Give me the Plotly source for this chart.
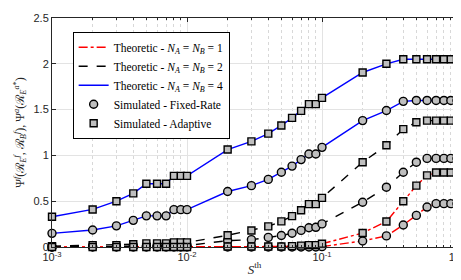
import plotly.graph_objects as go

# Threshold values S^th
s_th = [0.001, 0.002, 0.003, 0.004, 0.005, 0.006, 0.007, 0.008, 0.009,
        0.01, 0.02, 0.03, 0.04, 0.05, 0.06, 0.07, 0.08, 0.09,
        0.1, 0.2, 0.3, 0.4, 0.5, 0.6, 0.7, 0.8, 0.9, 1.0]

# N_A = N_B = 4
n4_adaptive = [0.33, 0.41, 0.50, 0.585, 0.69, 0.69, 0.69, 0.777, 0.777,
               0.777, 1.064, 1.153, 1.238, 1.327, 1.41, 1.486, 1.56, 1.56,
               1.628, 1.905, 2.0, 2.05, 2.05, 2.05, 2.05, 2.05, 2.05, 2.05]
n4_fixed = [0.149, 0.185, 0.231, 0.291, 0.34, 0.34, 0.34, 0.408, 0.408,
            0.408, 0.606, 0.67, 0.738, 0.816, 0.883, 0.954, 1.015, 1.015,
            1.088, 1.38, 1.49, 1.59, 1.60, 1.60, 1.60, 1.60, 1.60, 1.60]
# N_A = N_B = 2
n2_adaptive = [0.01, 0.02, 0.02, 0.03, 0.04, 0.04, 0.04, 0.05, 0.05,
               0.05, 0.128, 0.18, 0.225, 0.28, 0.337, 0.402, 0.468, 0.468,
               0.536, 0.926, 1.11, 1.287, 1.362, 1.38, 1.38, 1.38, 1.38, 1.38]
n2_fixed = [0.0, 0.005, 0.005, 0.01, 0.01, 0.01, 0.01, 0.015, 0.015,
            0.015, 0.07, 0.08, 0.105, 0.125, 0.15, 0.181, 0.21, 0.215,
            0.252, 0.489, 0.653, 0.816, 0.926, 0.967, 0.967, 0.967, 0.967, 0.967]
# N_A = N_B = 1
n1_adaptive = [0.0, 0.0, 0.0, 0.0, 0.0, 0.0, 0.0, 0.0, 0.0,
               0.0, 0.005, 0.005, 0.005, 0.005, 0.01, 0.015, 0.02, 0.02,
               0.035, 0.153, 0.278, 0.5, 0.67, 0.782, 0.813, 0.813, 0.813, 0.813]
n1_fixed = [0.0, 0.0, 0.0, 0.0, 0.0, 0.0, 0.0, 0.0, 0.0,
            0.0, 0.0, 0.0, 0.0, 0.0, 0.0, 0.0, 0.0, 0.0,
            0.004, 0.066, 0.121, 0.24, 0.345, 0.436, 0.473, 0.473, 0.473, 0.473]

x_ticks = [0.001, 0.01, 0.1, 1.0]
x_tick_text = ["10<sup>-3</sup>", "10<sup>-2</sup>", "10<sup>-1</sup>", "10<sup>0</sup>"]
x_minor_ticks = [0.002, 0.003, 0.004, 0.005, 0.006, 0.007, 0.008, 0.009,
                 0.02, 0.03, 0.04, 0.05, 0.06, 0.07, 0.08, 0.09,
                 0.2, 0.3, 0.4, 0.5, 0.6, 0.7, 0.8, 0.9]
y_ticks = [0, 0.5, 1, 1.5, 2, 2.5]
y_tick_text = ["0", "0.5", "1", "1.5", "2", "2.5"]

legend_names = [
    "Theoretic - <i>N</i><sub><i>A</i></sub> = <i>N</i><sub><i>B</i></sub> = 1",
    "Theoretic - <i>N</i><sub><i>A</i></sub> = <i>N</i><sub><i>B</i></sub> = 2",
    "Theoretic - <i>N</i><sub><i>A</i></sub> = <i>N</i><sub><i>B</i></sub> = 4",
    "Simulated - Fixed-Rate",
    "Simulated - Adaptive",
]

fig = go.Figure()

lines = [
    (n1_fixed, "#ff0000", "dashdot", 0),
    (n1_adaptive, "#ff0000", "dashdot", None),
    (n2_fixed, "#000000", "dash", 1),
    (n2_adaptive, "#000000", "dash", None),
    (n4_fixed, "#0000ff", "solid", 2),
    (n4_adaptive, "#0000ff", "solid", None),
]
for ys, col, dash, leg in lines:
    fig.add_trace(go.Scatter(
        x=s_th, y=ys, mode="lines",
        line=dict(color=col, dash=dash, width=1.4),
        name=legend_names[leg] if leg is not None else "",
        showlegend=leg is not None, cliponaxis=False,
    ))

marker_sets = [
    (n4_fixed, "circle", 3), (n2_fixed, "circle", None), (n1_fixed, "circle", None),
    (n4_adaptive, "square", 4), (n2_adaptive, "square", None), (n1_adaptive, "square", None),
]
for ys, sym, leg in marker_sets:
    fig.add_trace(go.Scatter(
        x=s_th, y=ys, mode="markers",
        marker=dict(symbol=sym, size=8 if sym == "circle" else 7, color="#bfbfbf",
                    line=dict(color="#000000", width=1.4)),
        name=legend_names[leg] if leg is not None else "",
        showlegend=leg is not None, cliponaxis=False,
    ))

axis_col = "#262626"
fig.update_layout(
    width=461, height=280,
    margin=dict(l=44, r=9, t=4, b=41),
    paper_bgcolor="white", plot_bgcolor="white",
    font=dict(family="Liberation Sans, Arial, sans-serif", size=11, color=axis_col),
    legend=dict(
        x=0.051, y=0.94, xanchor="left", yanchor="top",
        bgcolor="white", bordercolor="#000000", borderwidth=1,
        font=dict(family="Liberation Serif, DejaVu Serif, serif", size=11.5, color="#000000"),
        tracegroupgap=0, itemwidth=30,
    ),
    xaxis=dict(
        type="log", range=[-3, 0],
        tickvals=x_ticks, ticktext=x_tick_text, ticklabeloverflow="allow",
        ticks="inside", ticklen=4, tickcolor=axis_col,
        showline=True, linecolor=axis_col, linewidth=1, mirror="allticks",
        showgrid=True, gridcolor="#e3e3e3", gridwidth=1,
        minor=dict(tickvals=x_minor_ticks, showgrid=True, gridcolor="#d8d8d8", griddash="dot",
                   ticks="inside", ticklen=2, tickcolor=axis_col),
        zeroline=False,
        title=dict(text="<i>S</i><sup>th</sup>", standoff=2,
                   font=dict(family="Liberation Serif, DejaVu Serif, serif", size=13, color=axis_col)),
    ),
    yaxis=dict(
        range=[0, 2.5], tickvals=y_ticks, ticktext=y_tick_text, ticklabeloverflow="allow",
        ticks="inside", ticklen=4, tickcolor=axis_col,
        showline=True, linecolor=axis_col, linewidth=1, mirror="allticks",
        showgrid=True, gridcolor="#e3e3e3", gridwidth=1, zeroline=False,
        title=dict(text="Ψ<sup><i>f</i></sup>(ℛ<sub><i>E</i></sub><sup><i>f</i></sup>, ℛ<sub><i>B</i></sub><sup><i>f</i></sup>), Ψ<sup><i>a</i></sup>(ℛ<sub><i>E</i></sub><sup><i>a</i>*</sup>)",
                   standoff=6,
                   font=dict(family="Liberation Serif, DejaVu Serif, serif", size=12, color=axis_col)),
    ),
)

fig.write_html("out.html")
